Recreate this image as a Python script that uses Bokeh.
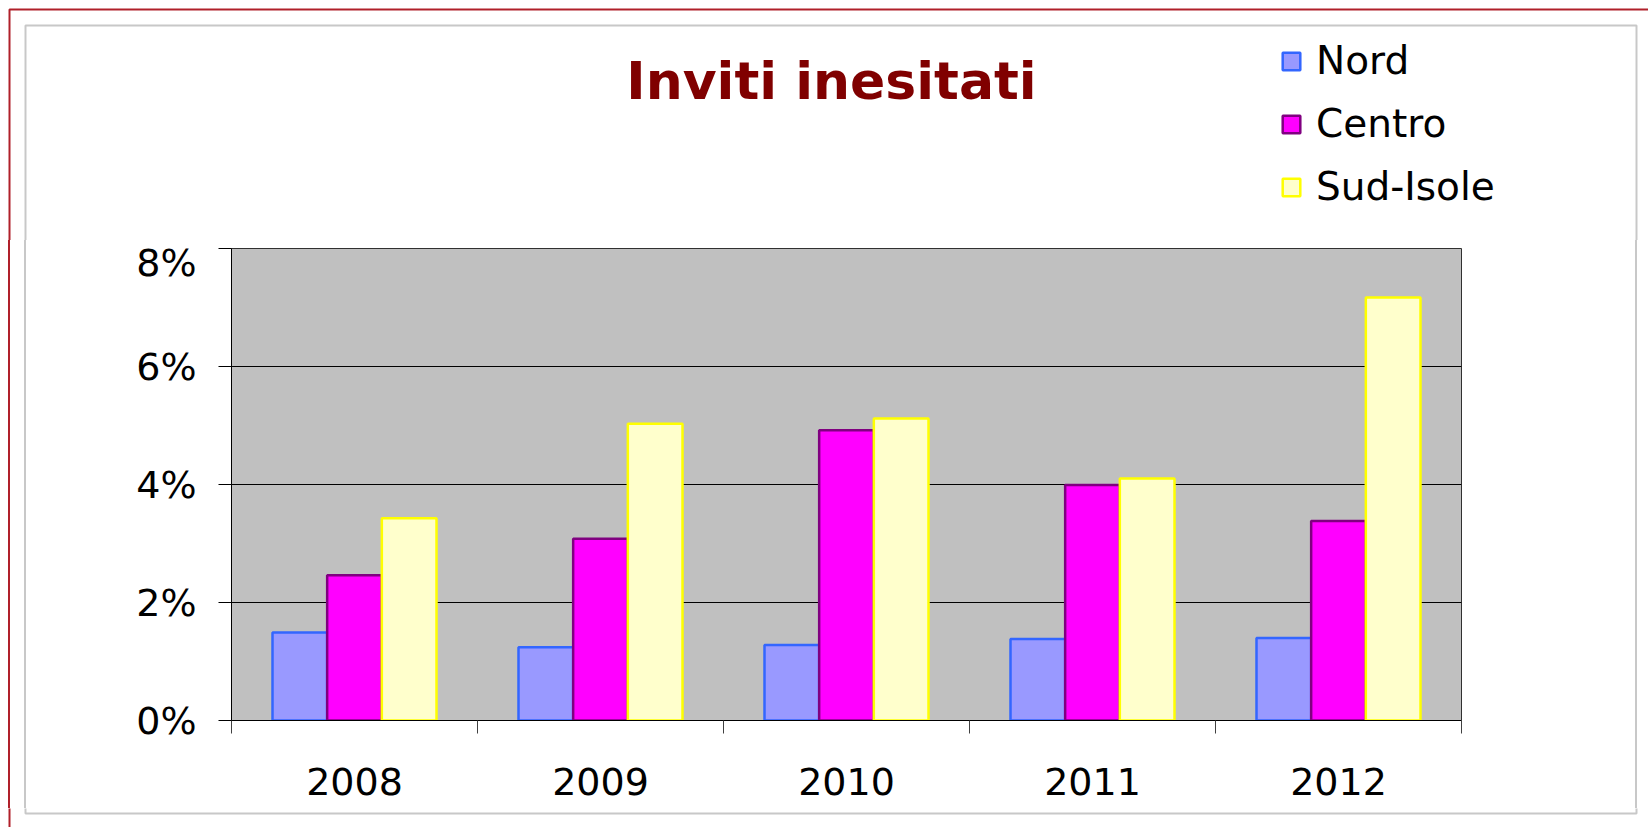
from bokeh.plotting import figure
from bokeh.layouts import column, row
from bokeh.models import (ColumnDataSource, Range1d, FixedTicker, NumeralTickFormatter,
                          Legend, LegendItem, Label, BoxAnnotation, Spacer)
from bokeh.transform import dodge
from bokeh.embed import file_html
from bokeh.resources import INLINE

# ---- data ----
years = ["2008", "2009", "2010", "2011", "2012"]
nord = [0.0149, 0.0124, 0.0128, 0.0138, 0.0140]
centro = [0.0246, 0.0308, 0.0492, 0.0399, 0.0338]
sud_isole = [0.0343, 0.0503, 0.0512, 0.0410, 0.0717]
y_ticks = [0.0, 0.02, 0.04, 0.06, 0.08]
series_names = ["Nord", "Centro", "Sud-Isole"]
series_fill = ["#9999FF", "#FF00FF", "#FFFFCC"]
series_line = ["#3366FF", "#800080", "#FFFF00"]
title_text = "Inviti inesitati"

FONT = "DejaVu Sans"
RED = "#B0202A"
GREY = "#C8C8C8"

TOTAL_W, TOTAL_H = 1648, 827
HEADER_H = 240
ROW_H = 568
BOTTOM_H = TOTAL_H - HEADER_H - ROW_H
LEFT_W, RIGHT_W = 30, 18
CHART_W = TOTAL_W - LEFT_W - RIGHT_W

centers = [i + 0.5 for i in range(len(years))]
bounds = [float(i) for i in range(len(years) + 1)]
source = ColumnDataSource(dict(x=centers, nord=nord, centro=centro, sud=sud_isole))
cols = ["nord", "centro", "sud"]


def strip(w, h, x0, x1, y0, y1):
    f = figure(width=w, height=h, x_range=Range1d(x0, x1), y_range=Range1d(y1, y0),
               output_backend="svg", toolbar_location=None,
               x_axis_location=None, y_axis_location=None, min_border=0)
    f.outline_line_color = None
    f.background_fill_color = "white"
    f.border_fill_color = "white"
    for g in f.grid:
        g.visible = False
    return f


def frame_box(f, left, right, top, bottom, color, width):
    f.add_layout(BoxAnnotation(left=left, right=right, top=top, bottom=bottom,
                               fill_color=None, fill_alpha=0, line_color=color,
                               line_alpha=1.0, line_width=width, level="overlay"))


def bar(w, h, color):
    return Spacer(width=w, height=h, styles={"background-color": color})


# ---- header: title + legend ----
header = strip(TOTAL_W, HEADER_H, 0, TOTAL_W, 0, HEADER_H)
frame_box(header, 9, 2000, 9, 2000, RED, 2)
frame_box(header, 25, 1636, 25, 2000, GREY, 2)
header.add_layout(Label(x=831, y=80, text=title_text, text_align="center",
                        text_baseline="alphabetic", text_font=FONT,
                        text_font_style="bold", text_font_size="52px",
                        text_color="#800000"))
proxies = []
for col, fc, lc in zip(cols, series_fill, series_line):
    proxies.append(header.vbar(x="x", top=col, width=0.1, source=source, fill_color=fc,
                               line_color=lc, line_width=2.5, visible=False))
legend = Legend(items=[LegendItem(label=n, renderers=[r]) for n, r in zip(series_names, proxies)],
                location=(1280, HEADER_H - 209), orientation="vertical",
                glyph_width=22, glyph_height=22, label_standoff=14, spacing=18,
                padding=0, margin=0, border_line_color=None, background_fill_alpha=0,
                label_text_font=FONT, label_text_font_size="39px",
                label_text_color="black")
header.add_layout(legend)

# ---- bottom strip ----
bottom = strip(TOTAL_W, BOTTOM_H, 0, TOTAL_W, HEADER_H + ROW_H, TOTAL_H)
frame_box(bottom, 9, 3000, -100, 3000, RED, 2)
frame_box(bottom, 25, 1636, -100, 813, GREY, 2)

# ---- side strips (page-border lines) ----
left_parts = [bar(8, ROW_H, "white"), bar(2, ROW_H, RED), bar(14, ROW_H, "white"),
              bar(2, ROW_H, GREY), bar(4, ROW_H, "white")]
right_parts = [bar(5, ROW_H, "white"), bar(2, ROW_H, GREY), bar(11, ROW_H, "white")]

# ---- chart ----
p = figure(width=CHART_W, height=ROW_H, output_backend="svg", toolbar_location=None,
           x_range=Range1d(0, len(years)), y_range=Range1d(0, 0.08),
           min_border_left=231 - LEFT_W, min_border_right=(LEFT_W + CHART_W) - 1461,
           min_border_top=248 - HEADER_H, min_border_bottom=(HEADER_H + ROW_H) - 720)
p.background_fill_color = "#C0C0C0"
p.border_fill_color = "white"
p.outline_line_color = "#303030"
p.outline_line_width = 1

bw = 1.0 / 4.5
offsets = [-bw, 0, bw]
for col, off, fc, lc in zip(cols, offsets, series_fill, series_line):
    p.vbar(x=dodge("x", off, range=p.x_range), top=col, width=bw, source=source,
           fill_color=fc, line_color=lc, line_width=2.5)

p.xgrid.grid_line_color = None
p.ygrid.ticker = FixedTicker(ticks=y_ticks)
p.ygrid.grid_line_color = "black"
p.ygrid.grid_line_width = 1

ya = p.yaxis[0]
ya.ticker = FixedTicker(ticks=y_ticks)
ya.formatter = NumeralTickFormatter(format="0%")
ya.major_tick_in = 0
ya.major_tick_out = 13
ya.minor_tick_line_color = None
ya.axis_line_color = "black"
ya.major_tick_line_color = "black"
ya.major_label_text_font = FONT
ya.major_label_text_font_size = "38px"
ya.major_label_text_color = "black"
ya.major_label_standoff = 22

xa = p.xaxis[0]
xa.ticker = FixedTicker(ticks=centers, minor_ticks=bounds)
xa.major_label_overrides = {c: y for c, y in zip(centers, years)}
xa.major_tick_in = 0
xa.major_tick_out = 0
xa.major_tick_line_color = None
xa.minor_tick_in = 0
xa.minor_tick_out = 13
xa.minor_tick_line_color = "#404040"
xa.axis_line_color = "black"
xa.major_label_text_font = FONT
xa.major_label_text_font_size = "38px"
xa.major_label_text_color = "black"
xa.major_label_standoff = 34

layout = column(header, row(*left_parts, p, *right_parts), bottom)
open("out.html", "w").write(file_html(layout, INLINE))
